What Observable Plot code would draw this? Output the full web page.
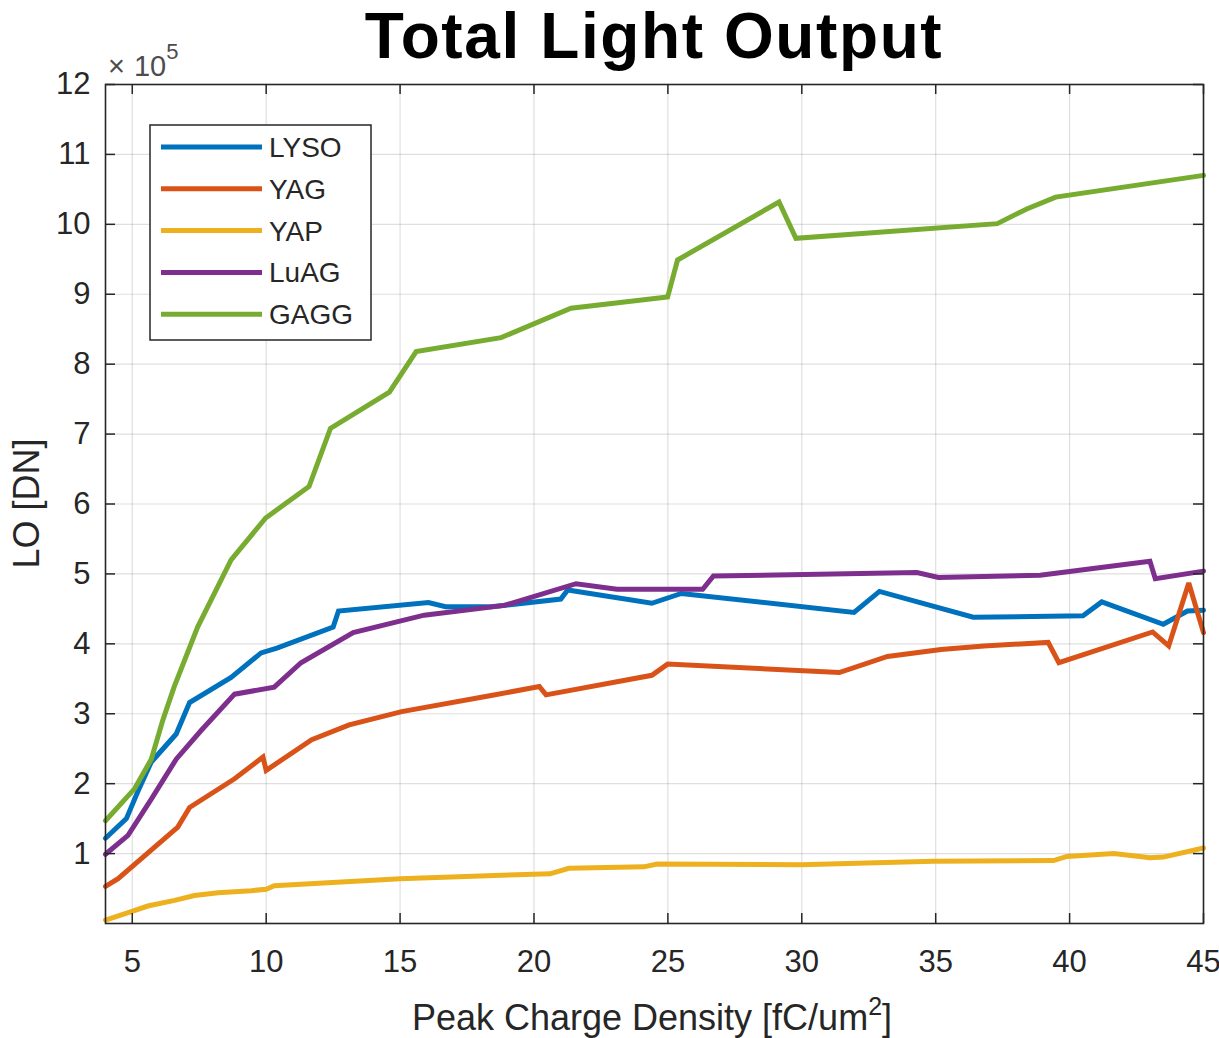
<!DOCTYPE html>
<html>
<head>
<meta charset="utf-8">
<script src="https://cdn.jsdelivr.net/npm/d3@7"></script>
<script src="https://cdn.jsdelivr.net/npm/@observablehq/plot@0.6"></script>
<style>
  body { margin: 0; background: #fff; font-family: "Liberation Sans", Arial, Helvetica, sans-serif; }
  #header { position: relative; height: 40px; width: 1219px; overflow: visible; z-index: 2; }
  #title { position: absolute; left: 105px; width: 1098px; top: 0px; text-align: center;
           font-size: 64px; line-height: 72px; letter-spacing: 1.6px; font-weight: bold; color: #000; white-space: nowrap; }
  #chart svg { display: block; }
</style>
</head>
<body>
<div id="header"><div id="title">Total Light Output</div></div>
<div id="chart"></div>
<script>
// ---- data (light output in units of 1e5 DN) ----
const seriesNames = ["LYSO", "YAG", "YAP", "LuAG", "GAGG"];
const seriesColors = ["#0072BD", "#D95319", "#EDB120", "#7E2F8E", "#77AC30"];

const lysoX = [4, 4.78, 5.2, 5.71, 6.64, 7.14, 8.69, 9.81, 10.4, 12.5, 12.7, 16.06, 16.7, 18.4, 21.0, 21.26, 24.4, 25.5, 31.95, 32.9, 36.4, 40.5, 41.2, 43.5, 44.4, 45];
const lysoY = [1.22, 1.5, 1.88, 2.31, 2.71, 3.16, 3.52, 3.87, 3.94, 4.24, 4.47, 4.59, 4.53, 4.53, 4.64, 4.77, 4.58, 4.72, 4.45, 4.75, 4.38, 4.40, 4.60, 4.28, 4.47, 4.48];

const yagX = [4, 4.47, 6.7, 7.14, 8.82, 9.88, 10.0, 11.7, 13.1, 15.06, 18.4, 20.2, 20.45, 24.4, 24.99, 31.4, 33.2, 35.2, 36.8, 39.2, 39.6, 43.1, 43.7, 44.45, 45];
const yagY = [0.53, 0.64, 1.38, 1.66, 2.07, 2.38, 2.19, 2.63, 2.84, 3.03, 3.26, 3.39, 3.27, 3.55, 3.71, 3.59, 3.82, 3.92, 3.97, 4.02, 3.73, 4.17, 3.97, 4.87, 4.16];

const yapX = [4, 4.96, 5.58, 6.58, 7.32, 8.2, 9.44, 10.0, 10.3, 15, 18.8, 20.6, 21.3, 24.1, 24.6, 29.96, 34.9, 39.4, 39.9, 41.65, 43.0, 43.5, 45];
const yapY = [0.05, 0.17, 0.25, 0.33, 0.40, 0.44, 0.47, 0.49, 0.54, 0.64, 0.69, 0.71, 0.79, 0.81, 0.85, 0.84, 0.89, 0.90, 0.96, 1.00, 0.94, 0.95, 1.08];

const luagX = [4, 4.84, 5.71, 6.64, 7.57, 8.82, 10.3, 11.3, 13.25, 15.9, 18.9, 21.57, 23.1, 26.3, 26.7, 34.3, 35.1, 38.9, 43.0, 43.2, 45];
const luagY = [0.99, 1.26, 1.78, 2.35, 2.76, 3.28, 3.38, 3.73, 4.16, 4.41, 4.55, 4.86, 4.78, 4.78, 4.97, 5.02, 4.95, 4.98, 5.18, 4.93, 5.04];

const gaggX = [4, 5.09, 5.71, 6.15, 6.56, 7.44, 8.69, 9.98, 11.6, 12.4, 14.6, 15.6, 18.77, 21.38, 24.99, 25.36, 29.15, 29.78, 37.3, 38.4, 39.48, 45];
const gaggY = [1.47, 1.93, 2.35, 2.92, 3.38, 4.24, 5.2, 5.8, 6.25, 7.08, 7.6, 8.18, 8.38, 8.8, 8.96, 9.49, 10.32, 9.8, 10.01, 10.22, 10.39, 10.7];

const xTicks = [5, 10, 15, 20, 25, 30, 35, 40, 45];
const yTicks = [1, 2, 3, 4, 5, 6, 7, 8, 9, 10, 11, 12];

const seriesXY = [[lysoX, lysoY], [yagX, yagY], [yapX, yapY], [luagX, luagY], [gaggX, gaggY]];
const rows = [];
seriesNames.forEach((name, i) => {
  const [xs, ys] = seriesXY[i];
  xs.forEach((x, j) => rows.push({series: name, x, y: ys[j]}));
});

const W = 1219, H = 998, mL = 105, mR = 16, mT = 44, mB = 115;
const innerW = W - mL - mR, innerH = H - mT - mB;
const axisColor = "#262626";
const font = '"Liberation Sans", Arial, Helvetica, sans-serif';

const plot = Plot.plot({
  width: W, height: H,
  marginLeft: mL, marginRight: mR, marginTop: mT, marginBottom: mB,
  style: {background: "transparent", fontFamily: font, fontSize: "31px", color: axisColor, overflow: "visible"},
  x: {domain: [4, 45], ticks: xTicks, tickSize: 0, tickPadding: 26, label: null},
  y: {domain: [0, 12], ticks: yTicks, tickSize: 0, tickPadding: 15, label: null},
  color: {domain: seriesNames, range: seriesColors},
  marks: [
    Plot.ruleX(xTicks, {x: d => d, stroke: axisColor, strokeOpacity: 0.15, strokeWidth: 1.2}),
    Plot.ruleY(yTicks, {y: d => d, stroke: axisColor, strokeOpacity: 0.15, strokeWidth: 1.2}),
    Plot.line(rows, {x: "x", y: "y", z: "series", stroke: "series", strokeWidth: 5, strokeLinejoin: "miter", strokeMiterlimit: 3}),
    Plot.tickX(xTicks, {x: d => d, stroke: axisColor, strokeWidth: 1.5, insetTop: innerH - 10}),
    Plot.tickX(xTicks, {x: d => d, stroke: axisColor, strokeWidth: 1.5, insetBottom: innerH - 10}),
    Plot.tickY(yTicks, {y: d => d, stroke: axisColor, strokeWidth: 1.5, insetRight: innerW - 10}),
    Plot.tickY(yTicks, {y: d => d, stroke: axisColor, strokeWidth: 1.5, insetLeft: innerW - 10}),
    Plot.frame({stroke: axisColor, strokeWidth: 1.6})
  ]
});

document.getElementById("chart").appendChild(plot);

const svg = d3.select(plot);

// exponent label
const expo = svg.append("text")
  .attr("x", mL + 3).attr("y", 36).attr("text-anchor", "start")
  .attr("fill", "#4d4d4d").attr("font-family", font).attr("font-size", 29);
expo.append("tspan").text("\u00d7");
expo.append("tspan").attr("dx", 9).text("10");
expo.append("tspan").attr("font-size", 22).attr("dy", -17).text("5");

// axis labels
const xl = svg.append("text")
  .attr("x", mL + innerW / 2 - 2).attr("y", 990)
  .attr("text-anchor", "middle").attr("fill", axisColor)
  .attr("font-family", font).attr("font-size", 36);
xl.append("tspan").text("Peak Charge Density [fC/um");
xl.append("tspan").attr("font-size", 25).attr("dy", -15).text("2");
xl.append("tspan").attr("dy", 15).text("]");

svg.append("text")
  .attr("transform", `translate(39,${mT + innerH / 2}) rotate(-90)`)
  .attr("text-anchor", "middle").attr("fill", axisColor)
  .attr("font-family", font).attr("font-size", 36)
  .text("LO [DN]");

// legend
const lg = svg.append("g").attr("transform", `translate(${mL + 45},${mT + 41})`);
lg.append("rect").attr("x", 0).attr("y", 0).attr("width", 221).attr("height", 215)
  .attr("fill", "#fff").attr("stroke", axisColor).attr("stroke-width", 1.5);
seriesNames.forEach((name, i) => {
  const yy = 22 + i * 41.8;
  lg.append("line").attr("x1", 11).attr("x2", 112).attr("y1", yy).attr("y2", yy)
    .attr("stroke", seriesColors[i]).attr("stroke-width", 5);
  lg.append("text").attr("x", 119).attr("y", yy).attr("dy", "0.36em").attr("text-anchor", "start")
    .attr("fill", axisColor).attr("font-family", font).attr("font-size", 28).text(name);
});
</script>
</body>
</html>
